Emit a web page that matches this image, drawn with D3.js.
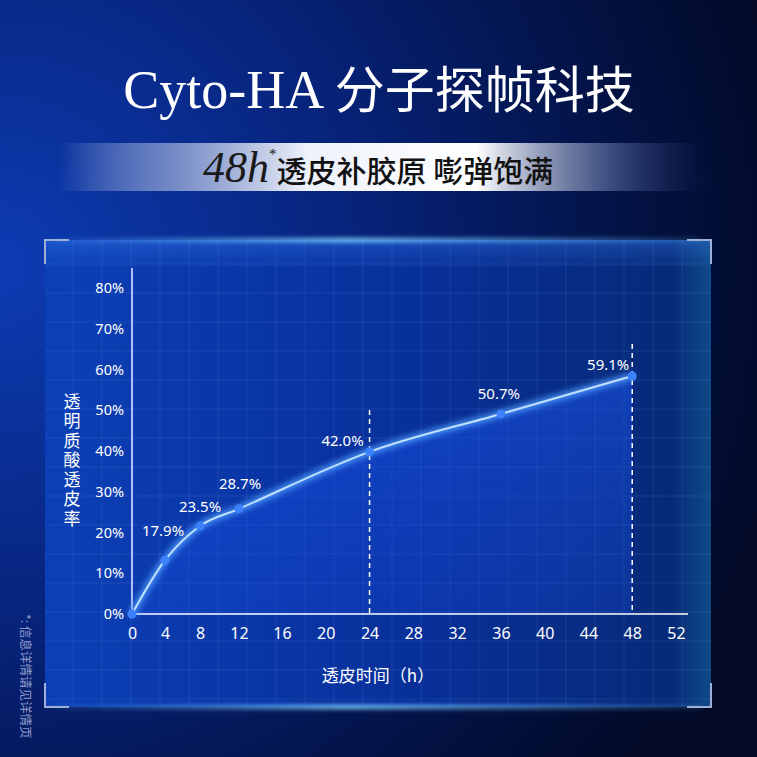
<!DOCTYPE html>
<html>
<head>
<meta charset="utf-8">
<script src="https://cdn.jsdelivr.net/npm/d3@7"></script>
<style>
  html, body { margin: 0; padding: 0; background: #041040; }
  svg { display: block; }
</style>
</head>
<body>
<div id="chart"></div>
<script>
// data
var hours = [0, 4, 8, 12, 24, 36, 48];
var rates = [0, 0.132, 0.216, 0.258, 0.398, 0.491, 0.584];
var pointLabels = ["", "17.9%", "23.5%", "28.7%", "42.0%", "50.7%", "59.1%"];
var xTicks = [0, 4, 8, 12, 16, 20, 24, 28, 32, 36, 40, 44, 48, 52];
var yTicks = [0, 0.1, 0.2, 0.3, 0.4, 0.5, 0.6, 0.7, 0.8];
var dashedHours = [24, 48];
var titleLatin = "Cyto-HA";
var titleCJK = "分子探帧科技";
var subtitleText = "透皮补胶原 嘭弹饱满";
var yTitle = "透明质酸透皮率";
var xTitle = "透皮时间（h）";
var footNote = "*: 信息详情请见详情页";

var W = 757, H = 757;
var svg = d3.select("#chart").append("svg")
    .attr("width", W)
    .attr("height", H);

var defs = svg.append("defs");

// background
var bg = defs.append("radialGradient").attr("id", "bg")
    .attr("cx", 0.0).attr("cy", 0.35).attr("r", 1.05);
bg.append("stop").attr("offset", "0%").attr("stop-color", "#0d3cb4");
bg.append("stop").attr("offset", "45%").attr("stop-color", "#07237a");
bg.append("stop").attr("offset", "80%").attr("stop-color", "#031243");
bg.append("stop").attr("offset", "100%").attr("stop-color", "#020a28");
svg.append("rect").attr("width", W).attr("height", H).attr("fill", "url(#bg)");

// panel
var panel = {x: 45, y: 240, w: 666, h: 467};
var pg = defs.append("linearGradient").attr("id", "panelFill")
    .attr("x1", 0).attr("x2", 1).attr("y1", 0).attr("y2", 0);
pg.append("stop").attr("offset", "0%").attr("stop-color", "#0c3fb6");
pg.append("stop").attr("offset", "55%").attr("stop-color", "#08309a");
pg.append("stop").attr("offset", "94%").attr("stop-color", "#072a78");
pg.append("stop").attr("offset", "100%").attr("stop-color", "#0f4a88");
svg.append("rect")
    .attr("x", panel.x).attr("y", panel.y)
    .attr("width", panel.w).attr("height", panel.h)
    .attr("fill", "url(#panelFill)");

var topShade = defs.append("linearGradient").attr("id", "topShade")
    .attr("x1", 0).attr("x2", 0).attr("y1", 0).attr("y2", 1);
topShade.append("stop").attr("offset", "0%").attr("stop-color", "#3f8cff").attr("stop-opacity", 0.3);
topShade.append("stop").attr("offset", "100%").attr("stop-color", "#3f8cff").attr("stop-opacity", 0);
svg.append("rect")
    .attr("x", panel.x).attr("y", panel.y)
    .attr("width", panel.w).attr("height", 30)
    .attr("fill", "url(#topShade)");

// grid
var grid = svg.append("g").attr("stroke", "#7fb0ff").attr("stroke-opacity", 0.13);
d3.range(panel.x + 28, panel.x + panel.w, 29).forEach(function(gx) {
    grid.append("line").attr("x1", gx).attr("x2", gx)
        .attr("y1", panel.y).attr("y2", panel.y + panel.h);
});
d3.range(panel.y + 24, panel.y + panel.h, 29).forEach(function(gy) {
    grid.append("line").attr("x1", panel.x).attr("x2", panel.x + panel.w)
        .attr("y1", gy).attr("y2", gy);
});

// glowing edges
var edge = defs.append("linearGradient").attr("id", "edge")
    .attr("x1", 0).attr("x2", 1).attr("y1", 0).attr("y2", 0);
edge.append("stop").attr("offset", "0%").attr("stop-color", "#5fb8ff").attr("stop-opacity", 0.1);
edge.append("stop").attr("offset", "45%").attr("stop-color", "#7fd0ff").attr("stop-opacity", 1);
edge.append("stop").attr("offset", "100%").attr("stop-color", "#5fb8ff").attr("stop-opacity", 0.2);
var blur = defs.append("filter").attr("id", "blur")
    .attr("x", "-20%").attr("y", "-300%").attr("width", "140%").attr("height", "700%");
blur.append("feGaussianBlur").attr("stdDeviation", 2);
[panel.y, panel.y + panel.h].forEach(function(ey) {
    svg.append("rect").attr("x", panel.x + 10).attr("y", ey - 2)
        .attr("width", panel.w - 20).attr("height", 4)
        .attr("fill", "url(#edge)").attr("filter", "url(#blur)");
    svg.append("line").attr("x1", panel.x + 10).attr("x2", panel.x + panel.w - 10)
        .attr("y1", ey).attr("y2", ey)
        .attr("stroke", "url(#edge)").attr("stroke-width", 1.5);
});

// corner brackets
var cl = 24;
var corners = svg.append("g").attr("fill", "none")
    .attr("stroke", "#9fb0d8").attr("stroke-width", 2);
corners.append("path").attr("d", "M" + panel.x + "," + (panel.y + cl) + "V" + panel.y + "H" + (panel.x + cl));
corners.append("path").attr("d", "M" + (panel.x + panel.w - cl) + "," + panel.y + "H" + (panel.x + panel.w) + "V" + (panel.y + cl));
corners.append("path").attr("d", "M" + panel.x + "," + (panel.y + panel.h - cl) + "V" + (panel.y + panel.h) + "H" + (panel.x + cl));
corners.append("path").attr("d", "M" + (panel.x + panel.w - cl) + "," + (panel.y + panel.h) + "H" + (panel.x + panel.w) + "V" + (panel.y + panel.h - cl));

// title
var title = svg.append("text")
    .attr("x", 379).attr("y", 108)
    .attr("text-anchor", "middle")
    .attr("fill", "#ffffff");
title.append("tspan")
    .attr("font-family", "'Liberation Serif', 'DejaVu Serif', serif")
    .attr("font-size", 54)
    .text(titleLatin + " ");
title.append("tspan")
    .attr("font-family", "'Noto Sans CJK SC', sans-serif")
    .attr("font-size", 50)
    .attr("font-weight", 400)
    .text(titleCJK);

// subtitle band
var band = defs.append("linearGradient").attr("id", "band")
    .attr("x1", 0).attr("x2", 1).attr("y1", 0).attr("y2", 0);
band.append("stop").attr("offset", "0%").attr("stop-color", "#c8d4f0").attr("stop-opacity", 0);
band.append("stop").attr("offset", "12%").attr("stop-color", "#9fb0dc").attr("stop-opacity", 0.55);
band.append("stop").attr("offset", "38%").attr("stop-color", "#eef2fb").attr("stop-opacity", 1);
band.append("stop").attr("offset", "64%").attr("stop-color", "#ffffff").attr("stop-opacity", 1);
band.append("stop").attr("offset", "84%").attr("stop-color", "#5c6c9c").attr("stop-opacity", 0.7);
band.append("stop").attr("offset", "100%").attr("stop-color", "#1b2a66").attr("stop-opacity", 0);
svg.append("rect").attr("x", 60).attr("y", 143)
    .attr("width", 650).attr("height", 48)
    .attr("fill", "url(#band)");

var sub = svg.append("text")
    .attr("x", 203).attr("y", 182)
    .attr("fill", "#111111");
sub.append("tspan")
    .attr("font-family", "'Liberation Serif', 'DejaVu Serif', serif")
    .attr("font-style", "italic")
    .attr("font-size", 44)
    .attr("fill", "#1a1a1a")
    .text("48h");
sub.append("tspan")
    .attr("font-family", "'Liberation Serif', serif")
    .attr("font-size", 15)
    .attr("dy", -23)
    .text("*");
sub.append("tspan")
    .attr("font-family", "'Noto Sans CJK SC', sans-serif")
    .attr("font-size", 30)
    .attr("font-weight", 500)
    .attr("dy", 23)
    .attr("dx", 0)
    .text(subtitleText);

// scales (the picture's time axis is squeezed below 16 h)
var x = d3.scaleLinear().domain([0, 4, 8, 12, 16, 52]).range([132, 165, 200, 239, 282, 676]);
var y = d3.scaleLinear().domain([0, 0.8]).range([614, 288]);

var points = hours.map(function(h, i) {
    return {h: h, r: rates[i], label: pointLabels[i]};
});

// area under curve
var areaFill = defs.append("linearGradient").attr("id", "areaFill")
    .attr("x1", 0).attr("x2", 0).attr("y1", 0).attr("y2", 1);
areaFill.append("stop").attr("offset", "0%").attr("stop-color", "#1e5cff").attr("stop-opacity", 0.45);
areaFill.append("stop").attr("offset", "100%").attr("stop-color", "#1a4ee8").attr("stop-opacity", 0.25);

var area = d3.area()
    .x(function(d) { return x(d.h); })
    .y0(y(0))
    .y1(function(d) { return y(d.r); })
    .curve(d3.curveMonotoneX);
svg.append("path").datum(points)
    .attr("d", area)
    .attr("fill", "url(#areaFill)");

// axes
var xAxis = svg.append("g")
    .attr("transform", "translate(0," + y(0) + ")")
    .call(d3.axisBottom(x).tickValues(xTicks).tickSize(0).tickPadding(14));
xAxis.select(".domain").remove();
xAxis.selectAll("text")
    .attr("fill", "#ffffff")
    .attr("font-family", "'Noto Sans', sans-serif")
    .attr("font-size", 16);
svg.append("line")
    .attr("x1", x(0)).attr("x2", 688)
    .attr("y1", y(0)).attr("y2", y(0))
    .attr("stroke", "#ffffff").attr("stroke-width", 1.5);

var yAxis = svg.append("g")
    .attr("transform", "translate(" + x(0) + ",0)")
    .call(d3.axisLeft(y).tickValues(yTicks).tickSize(0).tickPadding(8)
        .tickFormat(d3.format(".0%")));
yAxis.select(".domain").remove();
yAxis.selectAll("text")
    .attr("fill", "#ffffff")
    .attr("font-family", "'Noto Sans', sans-serif")
    .attr("font-size", 14.5);
svg.append("line")
    .attr("x1", x(0)).attr("x2", x(0))
    .attr("y1", 268).attr("y2", y(0))
    .attr("stroke", "#b4bcff").attr("stroke-width", 2);

// dashed guides
svg.append("g").selectAll("line")
    .data(dashedHours)
    .enter().append("line")
    .attr("x1", function(d) { return x(d); })
    .attr("x2", function(d) { return x(d); })
    .attr("y1", function(d) { return d === 48 ? 344 : 410; })
    .attr("y2", y(0))
    .attr("stroke", "#ffffff")
    .attr("stroke-width", 1.5)
    .attr("stroke-dasharray", "5,4");

// the curve with glow
var line = d3.line()
    .x(function(d) { return x(d.h); })
    .y(function(d) { return y(d.r); })
    .curve(d3.curveMonotoneX);
var glow = defs.append("filter").attr("id", "glow")
    .attr("x", "-10%").attr("y", "-10%").attr("width", "120%").attr("height", "120%");
glow.append("feGaussianBlur").attr("stdDeviation", 3);
svg.append("path").datum(points)
    .attr("d", line)
    .attr("fill", "none")
    .attr("stroke", "#4f9cff")
    .attr("stroke-width", 6)
    .attr("filter", "url(#glow)");
svg.append("path").datum(points)
    .attr("d", line)
    .attr("fill", "none")
    .attr("stroke", "#bfe0ff")
    .attr("stroke-width", 2);

svg.append("g").selectAll("circle")
    .data(points)
    .enter().append("circle")
    .attr("cx", function(d) { return x(d.h); })
    .attr("cy", function(d) { return y(d.r); })
    .attr("r", 4.5)
    .attr("fill", "#3c82ff");

// point labels
var labelShift = [[0, 0], [-2, -24], [0, -14], [1, -20], [-27, -6], [-2, -15], [-24, -6]];
svg.append("g").selectAll("text")
    .data(points.filter(function(d) { return d.label; }))
    .enter().append("text")
    .attr("x", function(d) { return x(d.h) + labelShift[points.indexOf(d)][0]; })
    .attr("y", function(d) { return y(d.r) + labelShift[points.indexOf(d)][1]; })
    .attr("text-anchor", "middle")
    .attr("fill", "#ffffff")
    .attr("font-family", "'Noto Sans', sans-serif")
    .attr("font-size", 15)
    .text(function(d) { return d.label; });

// axis titles
svg.append("text")
    .attr("x", 72).attr("y", 393)
    .attr("fill", "#ffffff")
    .attr("font-family", "'Noto Sans CJK SC', sans-serif")
    .attr("font-size", 17)
    .attr("letter-spacing", 2.5)
    .style("writing-mode", "vertical-rl")
    .style("text-orientation", "upright")
    .text(yTitle);

svg.append("text")
    .attr("x", 378).attr("y", 682)
    .attr("text-anchor", "middle")
    .attr("fill", "#ffffff")
    .attr("font-family", "'Noto Sans CJK SC', sans-serif")
    .attr("font-size", 17)
    .text(xTitle);

// foot note
svg.append("text")
    .attr("transform", "translate(21,614) rotate(90)")
    .attr("fill", "#8e9acb")
    .attr("font-family", "'Noto Sans CJK SC', sans-serif")
    .attr("font-size", 12.5)
    .text(footNote);
</script>
</body>
</html>
